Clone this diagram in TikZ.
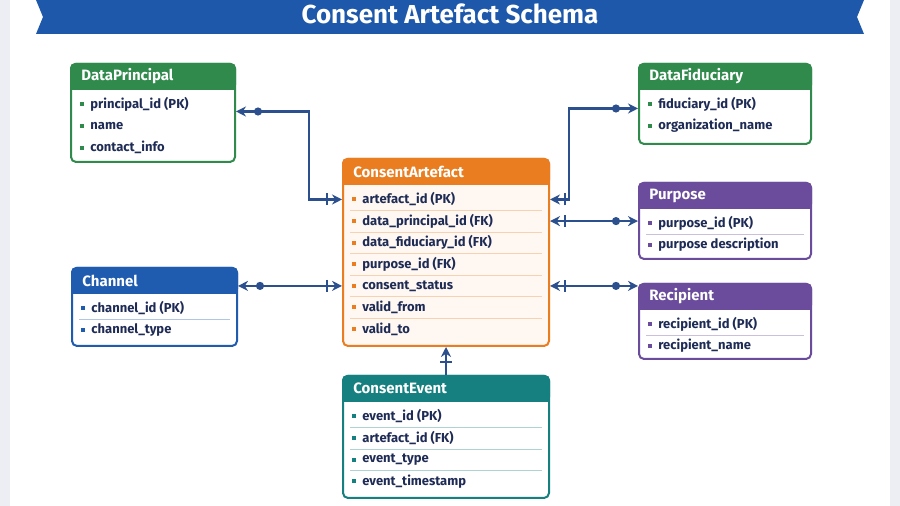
\documentclass[tikz,border=0pt]{standalone}
\usepackage{fontspec}
\setmainfont{Fira Sans}
\usetikzlibrary{arrows.meta,calc}
\definecolor{bgray}{HTML}{ECEEF3}
\definecolor{navy}{HTML}{1E2B55}
\definecolor{linkc}{HTML}{2C4F8E}
\definecolor{cgreen}{HTML}{2F8A4C}
\definecolor{corange}{HTML}{E97D1F}
\definecolor{cpurple}{HTML}{6A4B9C}
\definecolor{cblue}{HTML}{1F5BAF}
\definecolor{cteal}{HTML}{15807F}
\definecolor{banner}{HTML}{1D58AA}
\tikzset{
  link/.style={draw=linkc, line width=1.1pt},
  onedot/.tip={Circle[length=4pt,sep=4pt] Stealth[length=5pt,width=5pt]},
  onebar/.tip={Bar[width=6pt,sep=2pt] Stealth[length=5pt,width=5pt]},
  field/.style={anchor=west, text=navy, font=\fontsize{6.5}{7}\selectfont\bfseries, inner sep=0pt},
}
% entity box: name, colour, x, y, width, height, title, fields, body fill
\newcommand\entity[9]{%
  \node[draw=#2, line width=1pt, fill=#9, rounded corners=2.5pt, minimum width=#5*0.5pt,
        minimum height=#6*0.5pt, anchor=north west, inner sep=0pt] (#1) at (#3,#4) {};
  \fill[#2, rounded corners=2.5pt] (#1.north west) rectangle ($(#1.north east)+(0,27)$);
  \fill[#2] ($(#1.north west)+(0,12)$) rectangle ($(#1.north east)+(0,27)$);
  \node[anchor=west, text=white, font=\fontsize{7.5}{8}\selectfont\bfseries, inner sep=0pt]
    at ($(#1.north west)+(11,13.5)$) {#7};
  \foreach \t [count=\i] in {#8} {
    \node[field] (#1-\i) at ($(#1.north west)+(20,27+14.5+21.6*\i-21.6)$) {\t};
    \fill[#2] ($(#1.north west)+(10,25+14.5+21.6*\i-21.6)$) rectangle ++(4,4);
  }
}
\begin{document}
\begin{tikzpicture}[x=0.5pt, y=-0.5pt]
  \fill[bgray] (0,0) rectangle (900,506);
  \fill[white] (10,0) rectangle (890,506);
  \useasboundingbox (0,0) rectangle (900,506);

  % title banner
  \fill[banner] (36,0) -- (864,0) -- (857,17) -- (864,34) -- (36,34) -- (43,17) -- cycle;
  \node[text=white, font=\fontsize{13}{15}\selectfont\bfseries] (title) at (450,14) {Consent Artefact Schema};

  % tables
  \entity{dp}{cgreen}{70}{63}{164}{98}{DataPrincipal}{principal\_id (PK), name, contact\_info}{white}
  \entity{df}{cgreen}{638}{63}{172}{80}{DataFiduciary}{fiduciary\_id (PK), organization\_name}{white}
  \entity{ca}{corange}{342}{158}{206}{187}{ConsentArtefact}{artefact\_id (PK), data\_principal\_id (FK),
    data\_fiduciary\_id (FK), purpose\_id (FK), consent\_status, valid\_from, valid\_to}{corange!6}
  \entity{pu}{cpurple}{638}{182}{172}{76}{Purpose}{purpose\_id (PK), purpose description}{white}
  \entity{re}{cpurple}{638}{283}{172}{75}{Recipient}{recipient\_id (PK), recipient\_name}{white}
  \entity{ch}{cblue}{71}{267}{165}{78}{Channel}{channel\_id (PK), channel\_type}{white}
  \entity{ev}{cteal}{342}{375}{206}{122}{ConsentEvent}{event\_id (PK), artefact\_id (FK),
    event\_type, event\_timestamp}{white}

  % row separators
  \foreach \n/\k/\c in {ca/6/corange, ev/3/cteal, ch/1/cblue, pu/1/cpurple, re/1/cpurple}
    \foreach \i in {1,...,\k}
      \draw[\c!35, line width=0.5pt] ($(\n.west|-\n-\i)+(8,11)$) -- ($(\n.east|-\n-\i)+(-8,11)$);

  % relations
  \coordinate (dpk) at ($(dp.east|-dp-1)+(0,7)$);
  \coordinate (dfk) at ($(df.west|-df-1)+(0,4)$);
  \draw[link, onedot-onebar] (dpk) -- ++(73,0) |- (ca.west|-ca-1);
  \draw[link, onebar-onedot] (ca.east|-ca-1) -- ++(19,0) |- (dfk);
  \draw[link, onebar-onedot] (ca.east|-ca-2) -- (pu.west|-ca-2);
  \draw[link, onebar-onedot] (ca.east|-ca-5) -- (re.west|-ca-5);
  \draw[link, onedot-onebar] (ch.east|-ca-5) -- (ca.west|-ca-5);
  \draw[link, -onebar] (ev.north) -- (ca.south);
\end{tikzpicture}
\end{document}
